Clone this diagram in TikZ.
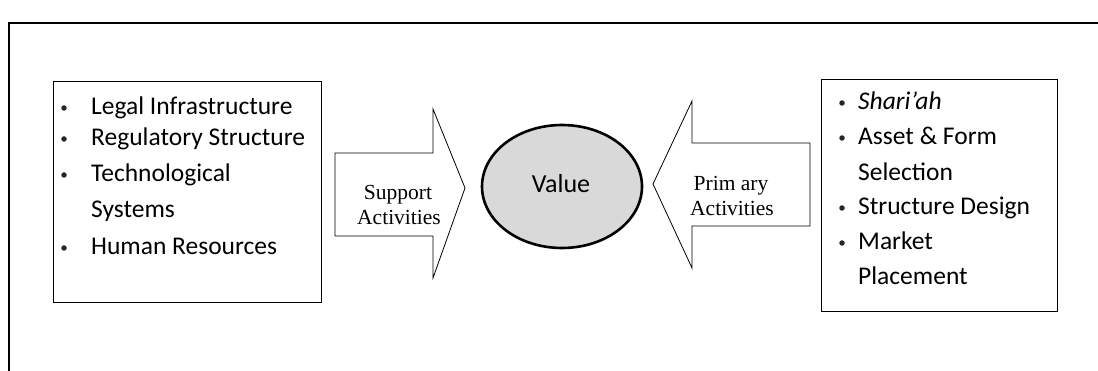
\documentclass[tikz,border=0pt]{standalone}
\usepackage{fontspec}
\setmainfont{Carlito}
\newfontfamily\serifb{Liberation Serif}
\begin{document}
\begin{tikzpicture}[x=1pt,y=-1pt,
  box/.style={draw=black,line width=1pt,fill=white},
  arrowshape/.style={draw=black,line width=0.8pt,fill=white},
  item/.style={anchor=base west,inner sep=0pt,font=\fontsize{25.5}{25.5}\selectfont},
  bul/.style={circle,fill=black!85,inner sep=0pt,minimum size=5.5pt},
  lbl/.style={anchor=base,inner sep=0pt,font=\serifb\fontsize{21.5}{21.5}\selectfont}]
\useasboundingbox (0,0) rectangle (1098,371);
\fill[white] (0,0) rectangle (1098,371);
% outer frame (open at right and bottom)
\draw[line width=1.2pt] (9,375) -- (9,23) -- (1102,23);
% left box
\node[box,minimum width=268pt,minimum height=221pt,anchor=north west] (lbox) at (53,81) {};
\foreach \y in {115,146,182,255}{
  \node[bul] at (64,\y-7) {};
}
\node[item] (l1) at (91,115) {Legal Infrastructure};
\node[item] (l2) at (91,146) {Regulatory Structure};
\node[item] (l3) at (91,182) {Technological};
\node[item] (l4) at (91,218) {Systems};
\node[item] (l5) at (91,255) {Human Resources};
% right box
\node[box,minimum width=236pt,minimum height=232pt,anchor=north west] (rbox) at (821,79) {};
\foreach \y in {110,145,215,250}{
  \node[bul] at (842,\y-7) {};
}
\node[item] (r1) at (858,110) {\itshape Shari’ah};
\node[item] (r2) at (858,145) {Asset \& Form};
\node[item] (r3) at (858,181) {Selection};
\node[item] (r4) at (858,215) {Structure Design};
\node[item] (r5) at (858,250) {Market};
\node[item] (r6) at (858,285) {Placement};
% left arrow
\draw[arrowshape] (335,153) -- (433,153) -- (433,109) -- (465,188) -- (433,278) -- (433,236) -- (335,236) -- cycle;
\node[lbl] (sup1) at (398,200) {Support};
\node[lbl] (sup2) at (399,225) {Activities};
% right arrow
\draw[arrowshape] (810,143) -- (692,143) -- (692,101) -- (653,184) -- (692,268) -- (692,226) -- (810,226) -- cycle;
\node[lbl] (pri1) at (731,191) {Prim ary};
\node[lbl] (pri2) at (732,216) {Activities};
% value ellipse
\draw[line width=2.6pt,fill=black!15] (562,186.5) ellipse [x radius=80, y radius=61.5];
\node[inner sep=0pt,font=\fontsize{26}{26}\selectfont] (val) at (561,184) {Value};
\end{tikzpicture}
\end{document}
